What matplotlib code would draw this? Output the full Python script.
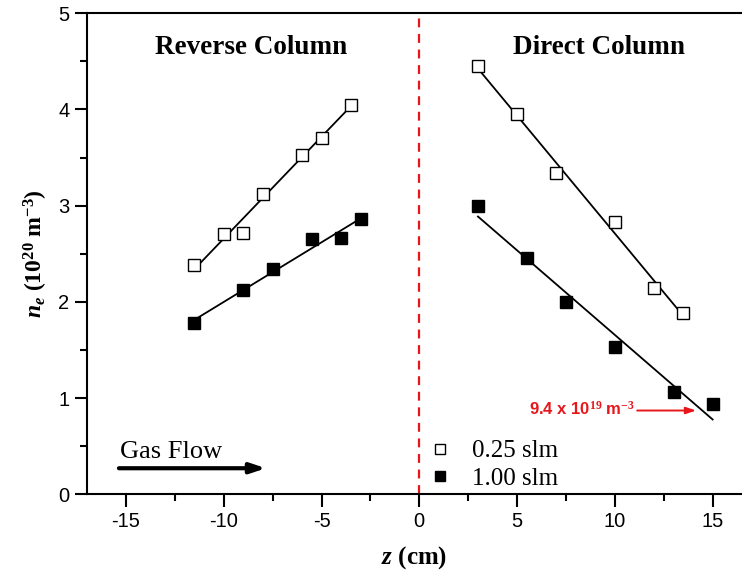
import numpy as np
import matplotlib
matplotlib.use("Agg")
import matplotlib.pyplot as plt
from matplotlib.ticker import MultipleLocator

serif = "Liberation Serif"
sans = "Liberation Sans"
plt.rcParams["mathtext.fontset"] = "custom"
plt.rcParams["mathtext.rm"] = serif
plt.rcParams["mathtext.it"] = serif + ":italic"
plt.rcParams["mathtext.bf"] = serif + ":bold"
plt.rcParams["mathtext.bfit"] = serif + ":italic:bold"
plt.rcParams["axes.unicode_minus"] = False

# Electron density along the column (z in cm, n_e in 1e20 m^-3)
z_rev_025 = [-11.5, -10.0, -9.0, -8.0, -6.0, -5.0, -3.5]
ne_rev_025 = [2.38, 2.70, 2.72, 3.12, 3.53, 3.70, 4.05]
z_rev_100 = [-11.5, -9.0, -7.5, -5.5, -4.0, -3.0]
ne_rev_100 = [1.78, 2.12, 2.34, 2.65, 2.66, 2.86]
z_dir_025 = [3.0, 5.0, 7.0, 10.0, 12.0, 13.5]
ne_dir_025 = [4.45, 3.95, 3.34, 2.83, 2.14, 1.88]
z_dir_100 = [3.0, 5.5, 7.5, 10.0, 13.0, 15.0]
ne_dir_100 = [3.00, 2.46, 2.00, 1.53, 1.06, 0.94]

labels = ["0.25 slm", "1.00 slm"]
annot_value = 0.94

fig = plt.figure(figsize=(7.42, 5.76), dpi=100)
ax = fig.add_axes([0.117, 0.142, 0.883, 0.835])

ms = 8.5
open_kw = dict(marker="s", ms=ms, mfc="white", mec="black", mew=1.0, ls="none", zorder=4)
fill_kw = dict(marker="s", ms=ms, mfc="black", mec="black", mew=1.0, ls="none", zorder=4)


def fit_line(x, y, x0, x1):
    p = np.polyfit(x, y, 1)
    xs = np.array([x0, x1])
    ax.plot(xs, np.polyval(p, xs), color="black", lw=1.3, zorder=3)


fit_line(z_rev_025, ne_rev_025, z_rev_025[0], z_rev_025[-1])
fit_line(z_rev_100, ne_rev_100, z_rev_100[0], z_rev_100[-1])
fit_line(z_dir_025, ne_dir_025, z_dir_025[0], z_dir_025[-1])
fit_line(z_dir_100, ne_dir_100, z_dir_100[0], z_dir_100[-1])

h1, = ax.plot(z_rev_025, ne_rev_025, **open_kw)
ax.plot(z_dir_025, ne_dir_025, **open_kw)
h2, = ax.plot(z_rev_100, ne_rev_100, **fill_kw)
ax.plot(z_dir_100, ne_dir_100, **fill_kw)

ax.axvline(0, color="#e8161b", ls=(0, (4, 3)), lw=1.6, zorder=2)

ax.set_xlim(-17, 16.5)
ax.set_ylim(0, 5)
ax.xaxis.set_major_locator(MultipleLocator(5))
ax.xaxis.set_minor_locator(MultipleLocator(2.5))
ax.yaxis.set_major_locator(MultipleLocator(1))
ax.yaxis.set_minor_locator(MultipleLocator(0.5))
ax.tick_params(which="major", direction="out", length=9, width=1.5, labelsize=14.5)
ax.tick_params(which="minor", direction="out", length=5, width=1.5)
for lab in ax.get_xticklabels() + ax.get_yticklabels():
    lab.set_fontfamily(sans)
ax.spines["right"].set_visible(False)
for s in ["left", "bottom", "top"]:
    ax.spines[s].set_linewidth(1.5)

ax.set_xlabel(r"$\mathbfit{z}$ (cm)", fontsize=18, fontweight="bold",
              fontfamily=serif, labelpad=10)
ax.set_ylabel(r"$\mathbfit{n_e}$ (10$^{\mathbf{20}}$ m$^{\mathbf{-3}}$)", fontsize=17,
              fontweight="bold", fontfamily=serif, labelpad=6)

ax.text(-8.6, 4.64, "Reverse Column", fontsize=19.5, fontweight="bold", fontfamily=serif,
        ha="center", va="center")
ax.text(9.17, 4.64, "Direct Column", fontsize=19.5, fontweight="bold", fontfamily=serif,
        ha="center", va="center")

ax.text(-15.3, 0.44, "Gas Flow", fontsize=19, fontfamily=serif, ha="left", va="center")
ax.annotate("", xy=(-7.7, 0.27), xytext=(-15.5, 0.27),
            arrowprops=dict(arrowstyle="-|>,head_length=0.9,head_width=0.3",
                            color="black", lw=3.0))

ax.annotate("", xy=(14.3, annot_value - 0.07), xytext=(11.0, annot_value - 0.07),
            arrowprops=dict(arrowstyle="-|>,head_length=0.6,head_width=0.2",
                            color="#e8161b", lw=1.4))
ax.text(11.0, annot_value - 0.05, r"9.4 x 10$^{\mathbf{19}}$ m$^{\mathbf{-3}}$",
        fontsize=12, fontweight="bold", fontfamily=sans, color="#e8161b",
        ha="right", va="center")

ax.legend([h1, h2], labels, loc="lower left", bbox_to_anchor=(0.504, -0.012), frameon=False,
          prop=dict(family=serif, size=18), handletextpad=0.8, borderaxespad=0.0,
          labelspacing=0.2, handlelength=1.0, markerscale=0.85)

fig.savefig("out.png", dpi=100)
